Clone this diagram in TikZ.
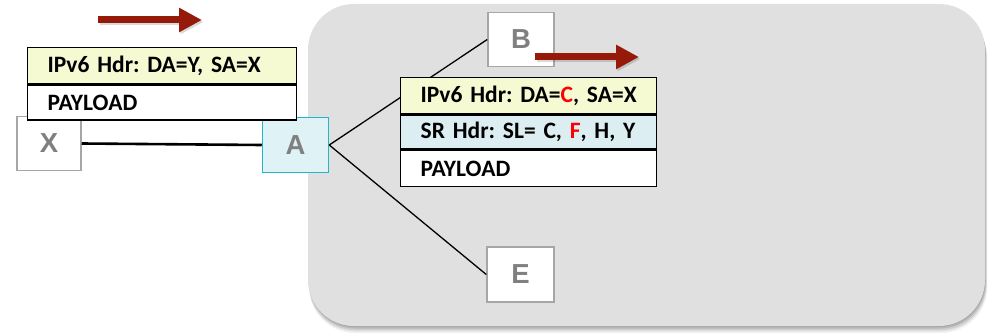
\documentclass[tikz,border=0pt]{standalone}
\usepackage{fontspec}
\setmainfont{Carlito}
\newfontfamily\letterfont{Liberation Sans}
\usetikzlibrary{arrows.meta,calc}
\definecolor{domaingray}{HTML}{E0E0E0}
\definecolor{boxgray}{HTML}{A6A6A6}
\definecolor{lettergray}{HTML}{808080}
\definecolor{hdryellow}{HTML}{F5FAD2}
\definecolor{hdrblue}{HTML}{DCEEF2}
\definecolor{nodecyan}{HTML}{DFF3F6}
\definecolor{cyanedge}{HTML}{22B6CA}
\definecolor{flowred}{HTML}{961A0A}
\definecolor{addrred}{HTML}{FF0000}
\tikzset{
  router/.style={draw=boxgray, line width=1.5pt, fill=white, minimum width=64pt,
    minimum height=54pt, inner sep=0pt, font=\letterfont\bfseries\fontsize{27.5}{27.5}\selectfont,
    text=lettergray},
  pktrow/.style={draw=black, line width=1.4pt, anchor=north west, inner xsep=20pt,
    inner ysep=0pt, align=left, font=\bfseries\fontsize{23.5}{23.5}\selectfont\frenchspacing},
  link/.style={draw=black, line width=1.3pt},
  flow/.style={draw=flowred, line width=7pt, -{Triangle[length=23pt,width=23pt]}},
  flowshadow/.style={draw=black, opacity=0.15, line width=7pt, -{Triangle[length=23pt,width=23pt]}},
}
\begin{document}
\begin{tikzpicture}[x=1pt,y=-1pt]
\useasboundingbox (0,0) rectangle (990,334);

% soft shadow under the domain panel
\foreach \o/\op in {7/0.05,5.5/0.07,4/0.09,2.5/0.1,1/0.1}{
  \fill[black, opacity=\op, rounded corners=46pt] (309,5+\o) rectangle (985+\o/3,326+\o);
}
\fill[domaingray, rounded corners=46pt] (308,4) rectangle (985,326);

% routers
\node[router] (x) at (49,143.5) {X};
\node[router, draw=cyanedge, fill=nodecyan, minimum width=66pt, minimum height=55pt] (a) at (295.5,145) {A};
\node[router, minimum width=66pt] (b) at (521,39.5) {B};
\node[router, minimum width=67pt, minimum height=55pt] (e) at (520.5,274.5) {E};

% links
\draw[link, line width=2.6pt] (x.east) -- (a.west);
\draw[link] (a.east) -- (b.west);
\draw[link] (a.east) -- (e.west);

% packet on the X--A link
\node[pktrow, fill=hdryellow, text width=229pt, minimum height=36pt] (p1h) at (27,47) {IPv6 Hdr: DA=Y, SA=X};
\node[pktrow, fill=white, text width=229pt, minimum height=35pt] (p1p) at (p1h.south west) {PAYLOAD};

% packet leaving A with the segment routing header
\node[pktrow, fill=hdryellow, text width=216pt, minimum height=36pt] (p2h) at (400,77) {IPv6 Hdr: DA={\color{addrred}C}, SA=X};
\node[pktrow, fill=hdrblue, text width=216pt, minimum height=34pt] (p2s) at (p2h.south west) {SR Hdr: SL= C, {\color{addrred}F}, H, Y};
\node[pktrow, fill=white, text width=216pt, minimum height=36pt] (p2p) at (p2s.south west) {PAYLOAD};

% direction of travel
\coordinate (f1s) at (98,20);
\coordinate (f1e) at (202,20);
\coordinate (f2s) at (535,57);
\coordinate (f2e) at (639,57);
\draw[flowshadow] ($(f1s)+(1.5,2)$) -- ($(f1e)+(1.5,2)$);
\draw[flow] (f1s) -- (f1e);
\draw[flowshadow] ($(f2s)+(1.5,2)$) -- ($(f2e)+(1.5,2)$);
\draw[flow] (f2s) -- (f2e);
\end{tikzpicture}
\end{document}
